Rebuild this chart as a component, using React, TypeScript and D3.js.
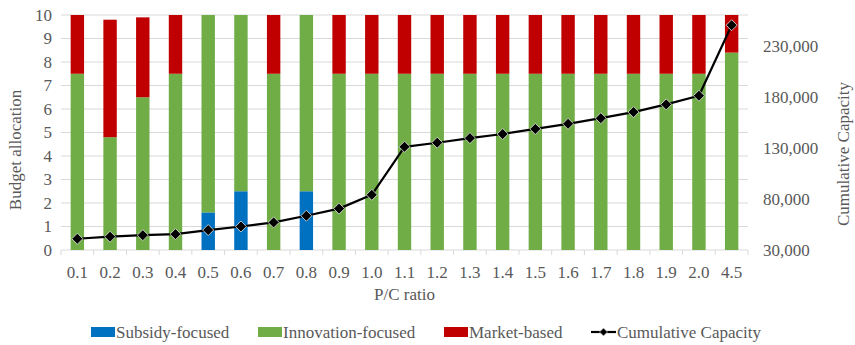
import React from "react";
import * as d3 from "d3";

// P/C ratio categories
const categories = ["0.1","0.2","0.3","0.4","0.5","0.6","0.7","0.8","0.9","1.0","1.1","1.2","1.3","1.4","1.5","1.6","1.7","1.8","1.9","2.0","4.5"];

// Budget allocation per strategy (left axis)
const subsidy = [0, 0, 0, 0, 1.6, 2.5, 0, 2.5, 0, 0, 0, 0, 0, 0, 0, 0, 0, 0, 0, 0, 0];
const innovation = [7.5, 4.8, 6.5, 7.5, 8.4, 7.5, 7.5, 7.5, 7.5, 7.5, 7.5, 7.5, 7.5, 7.5, 7.5, 7.5, 7.5, 7.5, 7.5, 7.5, 8.4];
const market = [2.5, 5.0, 3.4, 2.5, 0, 0, 2.5, 0, 2.5, 2.5, 2.5, 2.5, 2.5, 2.5, 2.5, 2.5, 2.5, 2.5, 2.5, 2.5, 1.6];

// Cumulative capacity (right axis)
const capacity = [41000, 43000, 44500, 45500, 49500, 53000, 57000, 63500, 70500, 84000, 131000, 135000, 139500, 143500, 148500, 153500, 159000, 165000, 172500, 181000, 250000];

const leftTicks = [0, 1, 2, 3, 4, 5, 6, 7, 8, 9, 10];
const rightTicks = [30000, 80000, 130000, 180000, 230000];

const seriesNames = ["Subsidy-focused", "Innovation-focused", "Market-based"];
const seriesColors = ["#0070C0", "#70AD47", "#C00000"];

const W = 855;
const H = 345;
const plot = { left: 61, right: 748, top: 15, bottom: 250 };
const TEXT = "#595959";

// Shared label attributes
function Label(props: any) {
  const { children, ...rest } = props;
  return (
    <text fontFamily="Liberation Serif" fontSize={17} fill={TEXT} {...rest}>
      {children}
    </text>
  );
}

export default function App() {
  const x = d3.scaleBand<string>().domain(categories).range([plot.left, plot.right]).padding(0);
  const barW = x.bandwidth() * 0.41;
  const yL = d3.scaleLinear().domain([0, 10]).range([plot.bottom, plot.top]);
  const yR = d3.scaleLinear().domain([30000, 260000]).range([plot.bottom, plot.top]);

  const rows = categories.map((c, i) => ({ c, s: subsidy[i], n: innovation[i], m: market[i] }));
  const stack = d3.stack<any>().keys(["s", "n", "m"])(rows);

  const cx = (c: string) => (x(c) as number) + x.bandwidth() / 2;
  const line = d3
    .line<number>()
    .x((_, i) => cx(categories[i]))
    .y((v) => yR(v));

  const fmt = d3.format(",");
  const diamond = (px: number, py: number, r: number) =>
    `M${px},${py - r}L${px + r},${py}L${px},${py + r}L${px - r},${py}Z`;

  // legend layout
  const legendY = 332;
  const legendItems = [
    { x: 91, label: seriesNames[0], color: seriesColors[0] },
    { x: 258, label: seriesNames[1], color: seriesColors[1] },
    { x: 444, label: seriesNames[2], color: seriesColors[2] },
  ];

  return (
    <svg width={W} height={H} style={{ position: "absolute", left: 0, top: 0, background: "#fff" }}>
      {/* horizontal gridlines */}
      {leftTicks.map((t) => (
        <line key={t} x1={plot.left} x2={plot.right} y1={yL(t)} y2={yL(t)} stroke="#D9D9D9" strokeWidth={1} />
      ))}
      {/* category tick marks */}
      {categories.map((c) => (
        <line key={c} x1={x(c)} x2={x(c)} y1={plot.bottom} y2={plot.bottom + 5} stroke="#D9D9D9" />
      ))}
      <line x1={plot.right} x2={plot.right} y1={plot.bottom} y2={plot.bottom + 5} stroke="#D9D9D9" />

      {/* stacked bars */}
      {stack.map((layer, k) => (
        <g key={k} fill={seriesColors[k]}>
          {layer.map((d, i) =>
            d[1] - d[0] > 0 ? (
              <rect
                key={i}
                x={cx(categories[i]) - barW / 2}
                width={barW}
                y={yL(d[1])}
                height={yL(d[0]) - yL(d[1])}
              />
            ) : null
          )}
        </g>
      ))}

      {/* cumulative capacity line */}
      <path d={line(capacity) || ""} fill="none" stroke="#000" strokeWidth={2.2} strokeLinejoin="round" />
      {capacity.map((v, i) => (
        <path key={i} d={diamond(cx(categories[i]), yR(v), 5.5)} fill="#000" stroke="#E8E8E8" strokeWidth={0.8} />
      ))}

      {/* left axis labels */}
      {leftTicks.map((t) => (
        <Label key={t} x={52} y={yL(t)} dy="0.35em" textAnchor="end">
          {t}
        </Label>
      ))}
      {/* right axis labels */}
      {rightTicks.map((t) => (
        <Label key={t} x={763} y={yR(t)} dy="0.35em" textAnchor="start">
          {fmt(t)}
        </Label>
      ))}
      {/* category labels */}
      {categories.map((c) => (
        <Label key={c} x={cx(c)} y={272} dy="0.35em" textAnchor="middle">
          {c}
        </Label>
      ))}

      {/* axis titles */}
      <Label x={(plot.left + plot.right) / 2} y={294} dy="0.35em" textAnchor="middle">
        P/C ratio
      </Label>
      <Label transform="translate(15,150) rotate(-90)" dy="0.35em" textAnchor="middle">
        Budget allocation
      </Label>
      <Label transform="translate(843,154) rotate(-90)" dy="0.35em" textAnchor="middle">
        Cumulative Capacity
      </Label>

      {/* legend */}
      {legendItems.map((it) => (
        <g key={it.label}>
          <rect x={it.x} y={legendY - 5} width={24} height={10} fill={it.color} />
          <Label x={it.x + 25} y={legendY} dy="0.35em">
            {it.label}
          </Label>
        </g>
      ))}
      <g>
        <line x1={591} x2={616} y1={legendY} y2={legendY} stroke="#000" strokeWidth={2.2} />
        <path d={diamond(603.5, legendY, 4)} fill="#000" stroke="#E8E8E8" strokeWidth={0.6} />
        <Label x={617} y={legendY} dy="0.35em">
          Cumulative Capacity
        </Label>
      </g>
    </svg>
  );
}
